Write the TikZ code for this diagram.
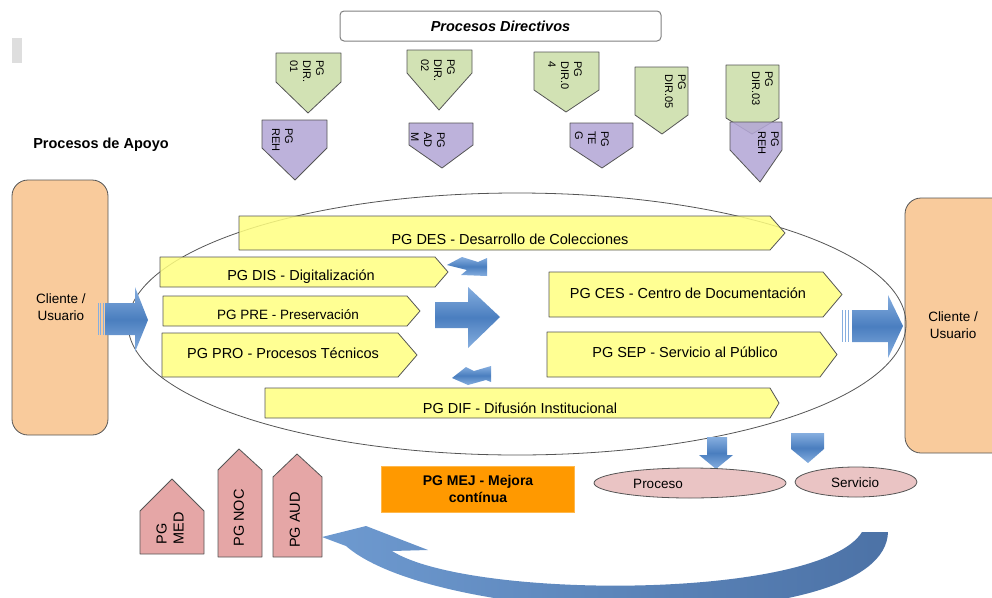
\documentclass[tikz,border=0pt]{standalone}
\usepackage{fontspec}
\setmainfont{Liberation Sans}
\usetikzlibrary{shapes.geometric}
\definecolor{peachc}{HTML}{F9CB9C}
\definecolor{yelc}{HTML}{FFFF80}
\definecolor{grnc}{HTML}{D2E2B4}
\definecolor{purc}{HTML}{B4A7D6}
\definecolor{pinkc}{HTML}{E5A6A6}
\definecolor{pinke}{HTML}{EAC4C4}
\definecolor{orngc}{HTML}{FF9900}
\definecolor{blu}{HTML}{4A7EBF}
\definecolor{bluel}{HTML}{86AEDF}
\definecolor{arcl}{HTML}{6E9AD0}
\definecolor{arcd}{HTML}{4C72A6}
\definecolor{edge}{HTML}{555555}
\newcommand\yarrowshape[5]{\path[yel] (#1,#2) -- (#3,#2) -- (#5,{(#2+#4)/2}) -- (#3,#4) -- (#1,#4) -- cycle;}
\newcommand\downpentshape[7]{\path[#7] (#1,#3) -- (#2,#3) -- (#2,#4) -- (#5,#6) -- (#1,#4) -- cycle;}
\newcommand\uppentshape[6]{\path[pinkp] (#1,#6) -- (#1,#4) -- (#5,#3) -- (#2,#4) -- (#2,#6) -- cycle;}
\begin{document}
\begin{tikzpicture}[x=1pt,y=-1pt,
  every node/.style={font=\fontsize{14.5}{17}\selectfont, inner sep=0},
  shp/.style={draw=edge, line width=0.8pt, line join=round},
  yel/.style={shp, fill=yelc, fill opacity=0.85},
  grnp/.style={shp, fill=grnc},
  purp/.style={shp, fill=purc, fill opacity=0.88},
  pinkp/.style={shp, fill=pinkc},
  vtxt/.style={rotate=-90, anchor=north west, align=left, font=\fontsize{11}{13}\selectfont},
  htxt/.style={rotate=90, align=left},
  bluesh/.style={top color=bluel, bottom color=bluel, middle color=blu, draw=none},
  client/.style={draw=edge, line width=0.8pt, fill=peachc, rounded corners=16pt},
  ctxt/.style={align=center, font=\fontsize{13.5}{16.5}\selectfont},
]
\useasboundingbox (0,0) rectangle (992,597);

% header
\node[draw=gray, line width=1pt, rounded corners=4pt, minimum width=321pt, minimum height=30pt,
  font=\bfseries\itshape\fontsize{14.5}{17}\selectfont] (dir) at (500.5,26) {Procesos Directivos};
\fill[black!13] (12,38) rectangle (22,63);
\node[font=\bfseries\fontsize{14.5}{17}\selectfont] (apoyo) at (101,145) {Procesos de Apoyo};

% green directive shapes
\downpentshape{276}{341}{53}{82}{308}{113}{grnp}
\downpentshape{407}{472}{50}{73}{439}{110}{grnp}
\downpentshape{534}{599}{52}{90}{566}{112}{grnp}
\downpentshape{635}{688}{67}{115}{662}{134}{grnp}
\downpentshape{726}{779}{65}{118}{752}{134}{grnp}
\node[vtxt] (d1) at (324,60) {PG\\DIR.\\01};
\node[vtxt] (d2) at (455,59) {PG\\DIR.\\02};
\node[vtxt] (d4) at (582,61) {PG\\DIR.0\\4};
\node[vtxt] (d5) at (686,74) {PG\\DIR.05};
\node[vtxt] (d3) at (773,71) {PG\\DIR.03};

% purple support shapes
\downpentshape{262}{327}{120}{148}{295}{180}{purp}
\downpentshape{409}{473}{123}{145}{442}{168}{purp}
\downpentshape{570}{633}{123}{147}{602}{168}{purp}
\downpentshape{730}{782}{122}{150}{760}{182}{purp}
\node[vtxt] (a1) at (293,128) {PG\\REH};
\node[vtxt] (a2) at (445,132) {PG\\AD\\M};
\node[vtxt] (a3) at (609,131) {PG\\TE\\G};
\node[vtxt] (a4) at (779,131) {PG\\REH};

% clients
\path[client] (12,180) rectangle (108,435);
\node[ctxt] (cl1) at (61,307) {Cliente /\\Usuario};
\path[client] (905,198) rectangle (1010,453);
\node[ctxt] (cl2) at (953,325) {Cliente /\\Usuario};

% ellipse
\node[ellipse, draw=edge, line width=0.8pt, minimum width=778pt, minimum height=262pt] (orbit) at (517,324) {};

% yellow process arrows
\yarrowshape{239}{216}{770}{250}{785}
\yarrowshape{160}{257}{435}{287}{448}
\yarrowshape{163}{296}{407}{326}{420}
\yarrowshape{162}{333}{398}{377}{417}
\yarrowshape{549}{272}{823}{317}{842}
\yarrowshape{547}{332}{820}{377}{837}
\yarrowshape{265}{388}{770}{418}{779}
\node (des) at (510,239) {PG DES - Desarrollo de Colecciones};
\node (dis) at (301,277) {PG DIS - Digitalización};
\node[font=\fontsize{13.5}{16}\selectfont] (pre) at (288,315) {PG PRE - Preservación};
\node (pro) at (283,353) {PG PRO - Procesos Técnicos};
\node (ces) at (688,293) {PG CES - Centro de Documentación};
\node (sep) at (685,352) {PG SEP - Servicio al Público};
\node (dif) at (520,408) {PG DIF - Difusión Institucional};

% blue arrows
\shade[bluesh] (105,303) -- (135,303) -- (135,287) -- (148,320) -- (135,352) -- (135,335) -- (105,335) -- cycle;
\foreach \xx in {98,100.5,103} \draw[bluel, line width=0.8pt] (\xx,303) -- (\xx,335);
\shade[bluesh] (852,310) -- (888,310) -- (888,295) -- (903,326) -- (888,358) -- (888,342) -- (852,342) -- cycle;
\foreach \xx in {842,845,848} \draw[bluel, line width=0.8pt] (\xx,310) -- (\xx,342);
\shade[bluesh] (435,302) -- (468,302) -- (468,287) -- (500,317) -- (468,348) -- (468,328) -- (435,328) -- cycle;
\shade[bluesh] (447,265) -- (462,257) -- (478,262) -- (487,258) -- (487,276) -- (461,275) -- (467,270) -- cycle;
\shade[bluesh] (452,378) -- (466,367) -- (474,371) -- (491,366) -- (491,382) -- (486,380) -- (468,385) -- cycle;
\shade[bluesh] (707,437) -- (727,437) -- (727,455) -- (733,455) -- (716,469) -- (699,455) -- (707,455) -- cycle;
\shade[bluesh] (791,433) -- (824,433) -- (824,449) -- (808,463) -- (791,449) -- cycle;

% outputs
\node[ellipse, draw=edge, line width=0.8pt, fill=pinke, minimum width=192pt, minimum height=30pt] (proc) at (690,483) {};
\node[font=\fontsize{13.5}{16}\selectfont] (proct) at (658,484) {Proceso};
\node[ellipse, draw=edge, line width=0.8pt, fill=pinke, minimum width=122pt, minimum height=30pt] (serv) at (856,482) {};
\node[font=\fontsize{13.5}{16}\selectfont] (servt) at (855,483) {Servicio};

% improvement
\node[fill=orngc, draw=orngc!70!white, line width=1pt, minimum width=193pt, minimum height=46pt, align=center,
  font=\bfseries\fontsize{14}{17}\selectfont] (mej) at (478,489) {PG MEJ - Mejora\\contínua};

% pink house shapes
\uppentshape{140}{204}{479}{511}{172}{554}
\uppentshape{218}{262}{449}{470}{239}{557}
\uppentshape{273}{322}{454}{477}{297}{557}
\node[htxt] (med) at (170,528) {PG\\MED};
\node[htxt] (noc) at (239,518) {PG NOC};
\node[htxt] (aud) at (295,520) {PG AUD};

% curved return arrow
\shade[left color=arcl, right color=arcd, draw=none]
  (322,537) -- (366,526) -- (428,550) -- (392,551)
  .. controls (470,600) and (820,600) .. (862,532) -- (888,532)
  .. controls (885,640) and (440,628) .. (346,546) -- cycle;
\end{tikzpicture}
\end{document}
